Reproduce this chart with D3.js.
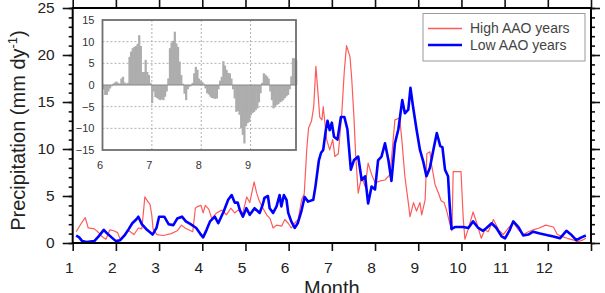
<!DOCTYPE html>
<html>
<head>
<meta charset="utf-8">
<script src="https://cdn.jsdelivr.net/npm/d3@7"></script>
<style>
  body { margin: 0; background: #fff; }
  svg { display: block; font-family: "Liberation Sans", Arial, sans-serif; }
</style>
</head>
<body>
<svg id="chart" width="605" height="293"></svg>
<script>
// ---- data ----
// High AAO years: month position, precipitation (mm/day)
const highMonth = [1.08,1.2,1.29,1.36,1.5,1.58,1.7,1.77,1.86,1.95,2.04,2.1,2.2,2.3,2.42,2.52,2.6,2.64,2.67,2.74,2.79,2.83,2.86,2.95,
  3.1,3.28,3.42,3.52,3.6,3.78,3.84,3.9,3.97,4.02,4.07,4.15,4.22,4.33,4.45,4.56,4.66,4.75,4.83,4.94,5.03,5.1,5.2,5.26,5.31,5.38,
  5.49,5.57,5.64,5.72,5.84,5.91,5.99,6.06,6.14,6.22,6.3,6.36,6.42,6.46,6.53,6.58,6.63,6.67,6.72,6.77,6.8,6.88,6.95,7.02,7.07,
  7.15,7.23,7.29,7.34,7.42,7.46,7.51,7.55,7.61,7.69,7.77,7.84,7.92,8.0,8.12,8.23,8.35,8.42,8.46,8.57,8.62,8.69,8.77,8.81,8.89,
  8.96,9.04,9.08,9.16,9.2,9.27,9.31,9.39,9.47,9.53,9.6,9.66,9.73,9.78,9.81,9.99,10.04,10.08,10.16,10.27,10.35,10.46,10.54,
  10.62,10.74,10.86,10.97,11.09,11.2,11.32,11.43,11.55,11.66,11.8,11.95,12.13,12.22,12.32,12.45,12.6,12.7,12.8,12.88];
const highPrecip = [1.2,2.1,2.7,1.6,1.5,1.2,0.6,0.4,1.4,1.3,1.1,0.4,0.9,1.3,0.9,1.6,1.5,3.4,4.9,4.4,4.1,3.0,1.5,0.9,
  0.8,1.0,1.3,1.9,1.6,1.2,3.7,3.9,4.0,3.2,4.0,3.6,2.6,3.2,3.5,3.0,3.7,3.2,3.5,3.2,4.9,4.3,6.5,5.3,4.6,3.9,
  3.0,2.6,1.6,1.9,1.8,2.5,2.1,1.6,2.1,2.5,4.6,5.2,10.0,12.2,13.0,14.5,18.8,16.5,13.4,13.1,14.5,11.0,9.9,11.0,9.2,
  9.5,13.8,18.4,21.0,19.8,17.5,13.5,9.5,5.3,7.1,6.0,8.5,7.3,6.4,6.6,6.7,7.3,11.0,13.1,13.3,11.0,7.1,4.3,2.8,4.3,
  3.4,4.3,3.0,4.6,9.5,9.7,8.3,6.2,5.3,4.5,4.3,3.4,2.1,1.3,7.6,7.6,2.8,0.4,1.5,3.3,2.2,0.5,1.4,
  1.2,2.5,1.4,0.9,1.6,2.2,1.4,0.9,1.2,1.4,1.6,1.9,1.7,0.9,0.7,0.5,0.3,0.15,0.3,0.5];

// Low AAO years
const lowMonth = [1.08,1.15,1.22,1.32,1.5,1.6,1.72,1.8,1.9,2.0,2.1,2.2,2.3,2.38,2.47,2.52,2.6,2.72,2.85,2.94,3.0,3.12,3.22,
  3.33,3.42,3.53,3.62,3.73,3.86,3.95,4.02,4.1,4.18,4.29,4.37,4.49,4.6,4.68,4.75,4.82,4.87,4.94,5.02,5.1,5.21,5.33,5.4,5.44,
  5.52,5.56,5.64,5.72,5.79,5.83,5.89,5.95,5.99,6.06,6.14,6.21,6.29,6.37,6.45,6.57,6.62,6.7,6.75,6.8,6.86,6.9,6.95,7.0,7.05,
  7.13,7.21,7.29,7.36,7.44,7.51,7.61,7.69,7.77,7.84,7.92,8.0,8.07,8.15,8.23,8.31,8.38,8.46,8.54,8.63,8.69,8.77,8.82,8.88,
  8.96,9.04,9.12,9.19,9.27,9.35,9.43,9.51,9.56,9.62,9.69,9.73,9.77,9.85,10.04,10.16,10.27,10.39,10.5,10.58,10.7,10.81,
  10.93,11.01,11.12,11.2,11.32,11.43,11.55,11.66,11.82,11.97,12.13,12.28,12.43,12.55,12.66,12.78,12.88];
const lowPrecip = [0.8,0.6,0.2,0.1,0.2,0.7,1.4,1.0,0.6,0.2,0.3,0.8,1.5,2.1,2.5,2.8,2.0,1.4,0.9,1.6,2.8,2.8,2.0,
  1.9,2.6,2.8,2.3,2.0,1.6,1.0,0.6,1.4,2.3,2.8,2.1,3.3,4.6,5.1,4.3,4.3,3.5,2.8,3.7,3.0,3.7,3.2,4.1,4.8,
  5.0,3.7,3.2,3.9,5.1,3.9,5.1,4.6,3.2,2.3,1.6,2.1,3.3,4.9,4.4,4.6,6.0,8.8,9.6,9.9,12.0,13.0,12.0,12.8,11.3,
  11.0,13.4,13.4,12.1,7.8,8.8,9.2,6.7,7.1,4.2,6.0,5.7,8.8,9.2,10.6,8.8,6.6,10.6,12.1,15.2,13.8,14.2,16.5,14.5,
  12.1,9.9,8.6,7.1,8.0,9.9,11.7,10.3,10.2,7.8,7.1,3.9,1.5,1.7,1.7,1.6,2.3,1.6,1.3,1.6,2.1,1.6,
  0.7,0.5,1.4,2.3,1.7,0.8,0.9,1.2,1.0,0.85,0.7,0.5,1.3,0.85,0.3,0.6,0.8];

// Inset: daily difference (High - Low), June 1 onward
const diffDaily = [-1.0,-2.3,-2.3,-1.5,-0.8,-0.3,0.3,0.6,0.8,0.5,0.3,1.5,1.9,0.6,0.3,0.5,
  6.5,7.7,8.5,8.8,9.0,9.5,11.5,9.0,3.0,3.0,5.8,3.0,2.3,0.5,
  -4.2,-1.5,-2.8,-3.0,-3.3,-3.5,-3.3,-3.5,-2.7,-1.5,
  1.5,8.5,9.8,10.2,12.3,9.6,8.8,5.4,2.3,0.3,
  -2.0,-3.5,-1.0,-0.4,-0.2,0.5,2.7,4.2,3.5,1.5,1.0,0.7,0.3,-0.8,
  -1.9,-2.2,-2.7,-3.0,-3.1,-3.2,-3.1,-1.0,
  1.0,1.9,5.5,4.5,3.5,2.8,2.7,1.5,
  -1.0,-3.1,-6.2,-6.0,-6.9,-10.0,-11.5,-13.5,-9.5,-8.8,-8.5,-7.0,-6.5,-6.2,-5.8,-5.4,-4.0,-1.9,
  0.5,2.7,2.4,2.0,1.5,
  -1.5,-3.5,-5.4,-5.0,-4.6,-4.4,-4.0,-3.8,-3.5,-3.0,-2.6,-2.3,-1.0,
  2.0,6.2,6.2,5.8];
const daysPerMonth = 30.5;

const monthTicks = [1,2,3,4,5,6,7,8,9,10,11,12,13];
const monthLabels = ["1","2","3","4","5","6","7","8","9","10","11","12",""];
const precipTicks = [0,5,10,15,20,25];
const insetMonthTicks = [6,7,8,9];
const insetValueTicks = [-15,-10,-5,0,5,10,15];

const seriesNames = ["High AAO years", "Low AAO years"];
const seriesColors = ["#ff5a5a", "#0000ff"];

// ---- layout ----
const plot = {left: 72.7, right: 591, top: 8, bottom: 243};
const inset = {left: 102.5, right: 296, top: 20, bottom: 150};

const svg = d3.select("#chart");

const x = d3.scaleLinear().domain([1, 13]).range([plot.left, plot.right]);
const y = d3.scaleLinear().domain([0, 25]).range([plot.bottom, plot.top]);

const high = highMonth.map((m, i) => [m, highPrecip[i]]);
const low = lowMonth.map((m, i) => [m, lowPrecip[i]]);

const line = d3.line().x(d => x(d[0])).y(d => y(d[1]));

svg.append("path").datum(high)
  .attr("fill", "none").attr("stroke", seriesColors[0])
  .attr("stroke-width", 1.2).attr("stroke-linejoin", "round")
  .attr("d", line);

svg.append("path").datum(low)
  .attr("fill", "none").attr("stroke", seriesColors[1])
  .attr("stroke-width", 2.6).attr("stroke-linejoin", "round")
  .attr("d", line);

// ---- axes ----
function styleAxis(g) {
  g.select(".domain").remove();
  g.selectAll(".tick line").attr("stroke", "#111").attr("stroke-width", 1.6);
  g.selectAll(".tick text").attr("fill", "#222").style("font-size", "15.5px");
}

svg.append("g")
  .attr("transform", `translate(0,${plot.bottom})`)
  .call(d3.axisBottom(x).tickValues(monthTicks).tickFormat((d, i) => monthLabels[i])
    .tickSize(8).tickPadding(11))
  .call(styleAxis)
  .call(g => g.selectAll(".tick text").attr("x", -4));

svg.append("g")
  .attr("transform", `translate(0,${plot.top})`)
  .call(d3.axisTop(x).tickValues(monthTicks).tickFormat("").tickSize(8))
  .call(styleAxis);

svg.append("g")
  .attr("transform", `translate(${plot.left},0)`)
  .call(d3.axisLeft(y).tickValues(d3.range(0, 26)).tickFormat("").tickSize(4))
  .call(styleAxis);
svg.append("g")
  .attr("transform", `translate(${plot.left},0)`)
  .call(d3.axisLeft(y).tickValues(precipTicks).tickSize(10).tickPadding(8))
  .call(styleAxis);

svg.append("g")
  .attr("transform", `translate(${plot.right},0)`)
  .call(d3.axisRight(y).tickValues(d3.range(0, 26)).tickFormat("").tickSize(4))
  .call(styleAxis);
svg.append("g")
  .attr("transform", `translate(${plot.right},0)`)
  .call(d3.axisRight(y).tickValues(precipTicks).tickFormat("").tickSize(9))
  .call(styleAxis);

svg.append("rect")
  .attr("x", plot.left).attr("y", plot.top)
  .attr("width", plot.right - plot.left).attr("height", plot.bottom - plot.top)
  .attr("fill", "none").attr("stroke", "#000").attr("stroke-width", 2);

// axis titles
const yTitle = svg.append("text")
  .attr("transform", `translate(25,${(plot.top + plot.bottom) / 2 + 5}) rotate(-90)`)
  .attr("text-anchor", "middle")
  .attr("fill", "#222")
  .style("font-size", "20px");
yTitle.append("tspan").text("Precipitation (mm dy");
yTitle.append("tspan").attr("dy", -8).style("font-size", "13px").text("-1");
yTitle.append("tspan").attr("dy", 8).text(")");

svg.append("text")
  .attr("x", (plot.left + plot.right) / 2)
  .attr("y", 295)
  .attr("text-anchor", "middle")
  .attr("fill", "#222")
  .style("font-size", "20px")
  .text("Month");

// ---- inset ----
const ix = d3.scaleLinear().domain([6, 9.92]).range([inset.left, inset.right]);
const iy = d3.scaleLinear().domain([-15, 15]).range([inset.bottom, inset.top]);
const ig = svg.append("g");

ig.append("rect")
  .attr("x", inset.left).attr("y", inset.top)
  .attr("width", inset.right - inset.left).attr("height", inset.bottom - inset.top)
  .attr("fill", "#fff");

// dotted grid
ig.selectAll(".hgrid")
  .data(insetValueTicks.filter(v => v !== 0 && Math.abs(v) !== 15))
  .join("line")
  .attr("x1", inset.left).attr("x2", inset.right)
  .attr("y1", d => iy(d)).attr("y2", d => iy(d))
  .attr("stroke", "#b0b0b0").attr("stroke-dasharray", "2,2");
ig.selectAll(".vgrid")
  .data(insetMonthTicks.slice(1))
  .join("line")
  .attr("x1", d => ix(d)).attr("x2", d => ix(d))
  .attr("y1", inset.top).attr("y2", inset.bottom)
  .attr("stroke", "#b0b0b0").attr("stroke-dasharray", "2,2");

const barW = ix(6 + 1 / daysPerMonth) - ix(6);
ig.selectAll(".bar")
  .data(diffDaily)
  .join("rect")
  .attr("x", (d, i) => ix(6 + i / daysPerMonth))
  .attr("width", barW + 0.6)
  .attr("y", d => iy(Math.max(0, d)))
  .attr("height", d => Math.abs(iy(d) - iy(0)))
  .attr("fill", "#adadad");

ig.append("line")
  .attr("x1", inset.left).attr("x2", inset.right)
  .attr("y1", iy(0)).attr("y2", iy(0))
  .attr("stroke", "#888").attr("stroke-width", 1.2);

ig.append("rect")
  .attr("x", inset.left).attr("y", inset.top)
  .attr("width", inset.right - inset.left).attr("height", inset.bottom - inset.top)
  .attr("fill", "none").attr("stroke", "#6e6e6e").attr("stroke-width", 1.8);

ig.append("g")
  .attr("transform", `translate(${inset.left},0)`)
  .call(d3.axisLeft(iy).tickValues(insetValueTicks).tickFormat(d3.format("d")).tickSize(0).tickPadding(8))
  .call(g => g.select(".domain").remove())
  .call(g => g.selectAll(".tick text").attr("fill", "#333").style("font-size", "11px"));

ig.append("g")
  .attr("transform", `translate(0,${inset.bottom})`)
  .call(d3.axisBottom(ix).tickValues(insetMonthTicks).tickFormat(d3.format("d")).tickSize(0).tickPadding(11))
  .call(g => g.select(".domain").remove())
  .call(g => g.selectAll(".tick text").attr("fill", "#333").attr("x", -3).style("font-size", "11px"));

// ---- legend ----
const lg = svg.append("g");
lg.append("rect")
  .attr("x", 423).attr("y", 13.5).attr("width", 162).attr("height", 47.5)
  .attr("fill", "#fff").attr("stroke", "#999").attr("stroke-width", 1);
seriesNames.forEach((name, i) => {
  const yy = 28.5 + i * 16.5;
  lg.append("line")
    .attr("x1", 428).attr("x2", 462).attr("y1", yy).attr("y2", yy)
    .attr("stroke", seriesColors[i]).attr("stroke-width", i === 0 ? 1.6 : 2.6);
  lg.append("text")
    .attr("x", 470).attr("y", yy).attr("dy", "0.35em")
    .attr("fill", "#444").style("font-size", "14px")
    .text(name);
});
</script>
</body>
</html>
